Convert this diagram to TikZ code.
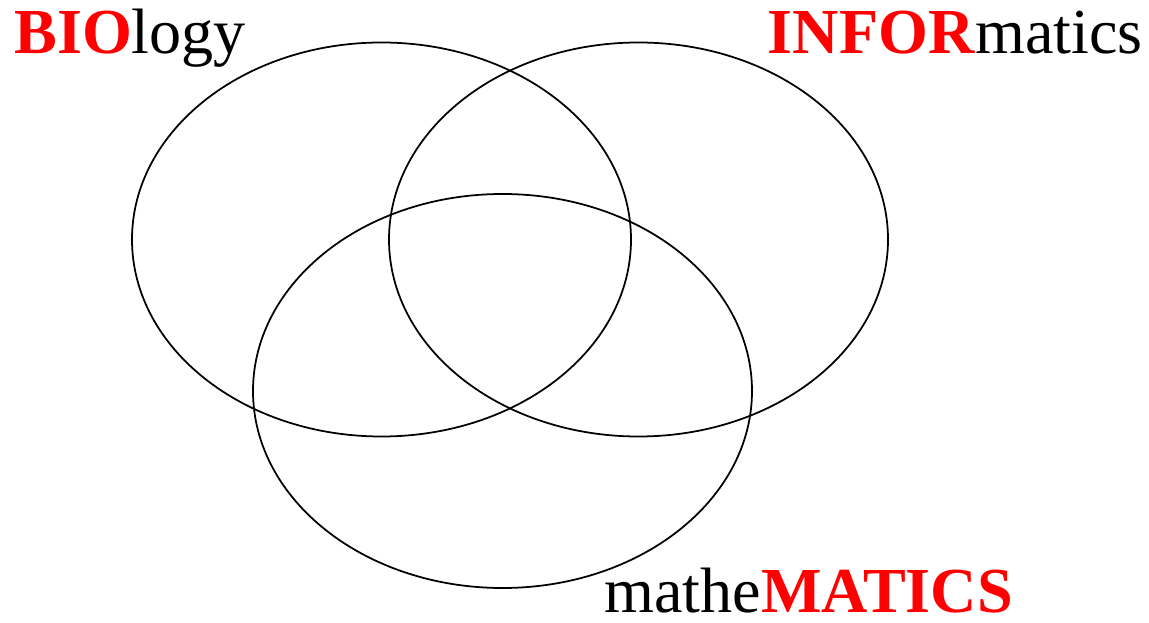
\documentclass[tikz,border=0pt]{standalone}
\usepackage{fontspec}
\setmainfont{Liberation Serif}
\usetikzlibrary{shapes.geometric}
\begin{document}
\begin{tikzpicture}[>=latex]
        \tikzstyle{set}=[draw, ellipse, line width=1pt, inner sep=0pt, minimum width=9.98cm, minimum height=7.88cm];
        \tikzstyle{title}=[inner sep=0pt, font=\fontsize{36.5}{40}\selectfont];
        \useasboundingbox (0,0) rectangle (22.98,12.44);

        \node[set] (bio) at (7.63,7.65) {};
        \node[set] (infor) at (12.77,7.65) {};
        \node[set] (mathe) at (10.05,4.62) {};

        \node[title, anchor=base west] (biolabel) at (0.28,11.36) {\textcolor{red}{\textbf{BIO}}logy};
        \node[title, anchor=base east] (inforlabel) at (22.86,11.36) {\textcolor{red}{\textbf{INFOR}}matics};
        \node[title, anchor=base west] (mathelabel) at (12.08,0.2) {mathe\textcolor{red}{\textbf{MATICS}}};
    \end{tikzpicture}
\end{document}
